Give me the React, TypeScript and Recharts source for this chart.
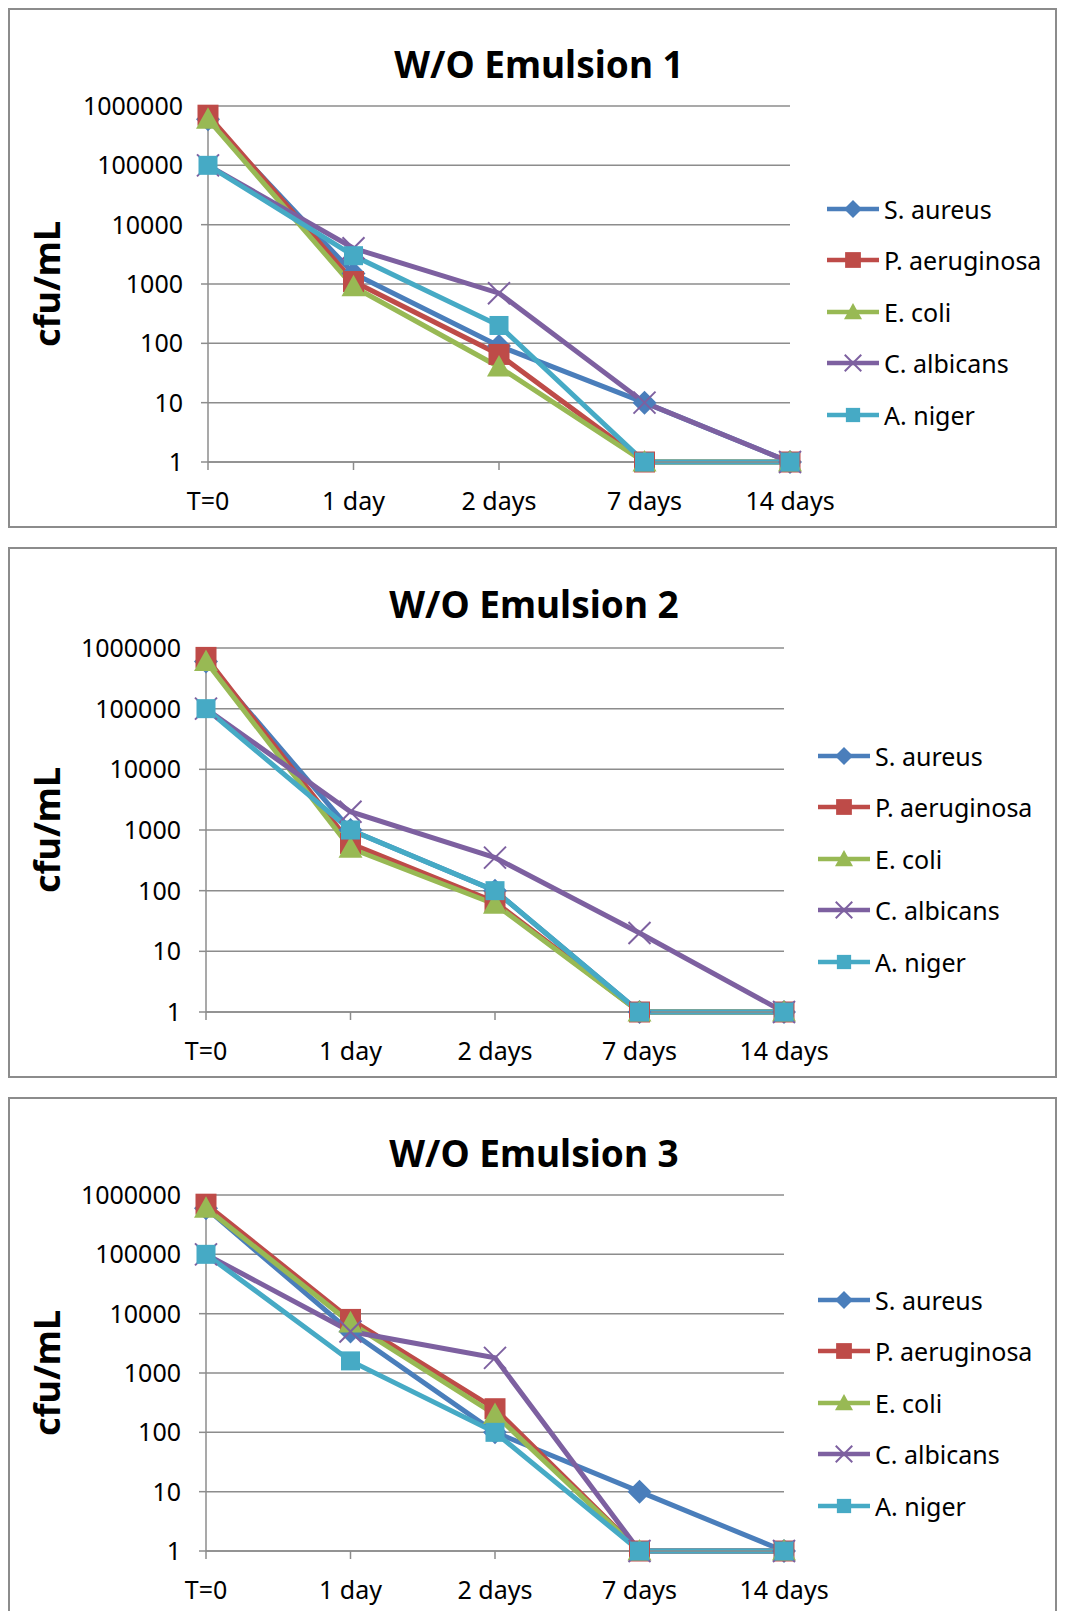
import { LineChart, Line, XAxis, YAxis, CartesianGrid, Legend } from 'recharts';

const FONT = '"Noto Sans", "Noto Sans CJK KR", sans-serif';
const GRID = '#8c8c8c';

const DAYS = ['T=0', '1 day', '2 days', '7 days', '14 days'];
const LOG_TICKS = [1, 10, 100, 1000, 10000, 100000, 1000000];

// W/O Emulsion 1 (cfu/mL)
const E1_S_AUREUS = [600000, 1500, 90, 10, 1];
const E1_P_AERUGINOSA = [700000, 1100, 65, 1, 1];
const E1_E_COLI = [600000, 900, 40, 1, 1];
const E1_C_ALBICANS = [100000, 4000, 700, 10, 1];
const E1_A_NIGER = [100000, 3000, 200, 1, 1];

// W/O Emulsion 2
const E2_S_AUREUS = [600000, 1000, 100, 1, 1];
const E2_P_AERUGINOSA = [700000, 600, 65, 1, 1];
const E2_E_COLI = [600000, 500, 60, 1, 1];
const E2_C_ALBICANS = [100000, 2000, 350, 20, 1];
const E2_A_NIGER = [100000, 1000, 100, 1, 1];

// W/O Emulsion 3
const E3_S_AUREUS = [600000, 5000, 100, 10, 1];
const E3_P_AERUGINOSA = [700000, 8000, 250, 1, 1];
const E3_E_COLI = [600000, 7000, 200, 1, 1];
const E3_C_ALBICANS = [100000, 5000, 1800, 1, 1];
const E3_A_NIGER = [100000, 1600, 100, 1, 1];

type Shape = 'diamond' | 'square' | 'triangle' | 'x' | 'smallsquare';

const SERIES: { key: string; name: string; color: string; shape: Shape }[] = [
  { key: 'sa', name: 'S. aureus', color: '#4a7ebb', shape: 'diamond' },
  { key: 'pa', name: 'P. aeruginosa', color: '#be4b48', shape: 'square' },
  { key: 'ec', name: 'E. coli', color: '#98b954', shape: 'triangle' },
  { key: 'ca', name: 'C. albicans', color: '#7d60a0', shape: 'x' },
  { key: 'an', name: 'A. niger', color: '#46aac5', shape: 'smallsquare' },
];

function buildRows(values: number[][]) {
  return DAYS.map((day, i) => {
    const row: Record<string, string | number> = { day };
    SERIES.forEach((s, j) => {
      row[s.key] = values[j][i];
    });
    return row;
  });
}

function Marker({ shape, x, y, color, s = 1 }: { shape: Shape; x: number; y: number; color: string; s?: number }) {
  if (shape === 'diamond') {
    const r = 12 * s;
    return <polygon points={`${x},${y - r} ${x + r},${y} ${x},${y + r} ${x - r},${y}`} fill={color} />;
  }
  if (shape === 'square') {
    const r = 10.5 * s;
    return <rect x={x - r} y={y - r} width={r * 2} height={r * 2} fill={color} />;
  }
  if (shape === 'triangle') {
    const r = 12 * s;
    return <polygon points={`${x},${y - r} ${x + r},${y + r * 0.8} ${x - r},${y + r * 0.8}`} fill={color} />;
  }
  if (shape === 'x') {
    const r = 11 * s;
    return (
      <g stroke={color} strokeWidth={2}>
        <line x1={x - r} y1={y - r} x2={x + r} y2={y + r} />
        <line x1={x - r} y1={y + r} x2={x + r} y2={y - r} />
      </g>
    );
  }
  const r = 9.5 * s;
  return <rect x={x - r} y={y - r} width={r * 2} height={r * 2} fill={color} />;
}

function LegendBox() {
  return (
    <div style={{ fontFamily: FONT, fontSize: 25, color: '#000' }}>
      {SERIES.map((s) => (
        <div key={s.key} style={{ display: 'flex', alignItems: 'center', height: 51.5 }}>
          <svg width={52} height={24} style={{ overflow: 'visible' }}>
            <line x1={0} y1={12} x2={52} y2={12} stroke={s.color} strokeWidth={4.5} />
            <Marker shape={s.shape} x={26} y={12} color={s.color} s={0.75} />
          </svg>
          <span style={{ marginLeft: 5, whiteSpace: 'nowrap' }}>{s.name}</span>
        </div>
      ))}
    </div>
  );
}

function YLabel(props: any) {
  const vb = props.viewBox || { x: 0, y: 0, height: 0 };
  const cx = vb.x + 36;
  const cy = vb.y + vb.height / 2;
  return (
    <text
      x={cx}
      y={cy}
      transform={`rotate(-90 ${cx} ${cy})`}
      textAnchor="middle"
      dominantBaseline="central"
      fontSize={36}
      fontWeight={700}
      fontFamily={FONT}
      fill="#000"
    >
      cfu/mL
    </text>
  );
}

interface PanelProps {
  title: string;
  values: number[][];
  top: number;
  height: number;
  noBottom?: boolean;
  marginTop: number;
  xAxisHeight: number;
  yWidth: number;
  marginRight: number;
  legendLeft: number;
  legendTop: number;
  titleX: number;
  titleY: number;
}

function Panel(p: PanelProps) {
  const rows = buildRows(p.values);
  const chartH = p.height - (p.noBottom ? 2 : 4);
  return (
    <div
      style={{
        position: 'absolute',
        left: 0,
        top: p.top,
        width: 1049,
        height: p.height,
        boxSizing: 'border-box',
        border: `2px solid ${GRID}`,
        borderBottom: p.noBottom ? 'none' : `2px solid ${GRID}`,
        background: '#fff',
      }}
    >
      <LineChart
        width={1045}
        height={chartH}
        data={rows}
        margin={{ top: p.marginTop, right: p.marginRight, bottom: 0, left: 0 }}
      >
        <CartesianGrid vertical={false} stroke={GRID} strokeWidth={1.5} />
        <XAxis
          dataKey="day"
          height={p.xAxisHeight}
          interval={0}
          tickSize={8}
          tickMargin={22}
          axisLine={{ stroke: GRID, strokeWidth: 1.5 }}
          tickLine={{ stroke: GRID, strokeWidth: 1.5 }}
          tick={{ fill: '#000', fontSize: 25, fontFamily: FONT }}
        />
        <YAxis
          type="number"
          scale="log"
          domain={[1, 1000000]}
          ticks={LOG_TICKS}
          interval={0}
          width={p.yWidth}
          tickSize={7}
          tickMargin={18}
          axisLine={{ stroke: GRID, strokeWidth: 1.5 }}
          tickLine={{ stroke: GRID, strokeWidth: 1.5 }}
          tick={{ fill: '#000', fontSize: 25, fontFamily: FONT }}
          label={{ content: YLabel }}
        />
        <Legend
          layout="vertical"
          align="center"
          verticalAlign="middle"
          wrapperStyle={{ left: p.legendLeft, top: p.legendTop, width: 230 }}
          content={() => <LegendBox />}
        />
        {SERIES.map((s) => (
          <Line
            key={s.key}
            type="linear"
            dataKey={s.key}
            name={s.name}
            stroke={s.color}
            strokeWidth={5}
            isAnimationActive={false}
            activeDot={false}
            dot={(d: any) => (
              <Marker key={`${s.key}-${d.index}`} shape={s.shape} x={d.cx} y={d.cy} color={s.color} />
            )}
          />
        ))}
      </LineChart>
      <div
        style={{
          position: 'absolute',
          left: p.titleX - 300,
          top: p.titleY - 26,
          width: 600,
          lineHeight: '52px',
          textAlign: 'center',
          fontFamily: FONT,
          fontSize: 37,
          fontWeight: 700,
          color: '#000',
        }}
      >
        {p.title}
      </div>
    </div>
  );
}

export default function App() {
  return (
    <div style={{ padding: '8px 0 0 8px' }}>
      <style>{'body { margin: 0; }'}</style>
      <div style={{ position: 'relative', width: 1049, height: 1603, overflow: 'hidden', background: '#fff' }}>
        <Panel
          title="W/O Emulsion 1"
          values={[E1_S_AUREUS, E1_P_AERUGINOSA, E1_E_COLI, E1_C_ALBICANS, E1_A_NIGER]}
          top={0}
          height={520}
          marginTop={96}
          xAxisHeight={64}
          yWidth={198}
          marginRight={265}
          legendLeft={817}
          legendTop={173}
          titleX={529}
          titleY={54}
        />
        <Panel
          title="W/O Emulsion 2"
          values={[E2_S_AUREUS, E2_P_AERUGINOSA, E2_E_COLI, E2_C_ALBICANS, E2_A_NIGER]}
          top={539}
          height={531}
          marginTop={99}
          xAxisHeight={64}
          yWidth={196}
          marginRight={271}
          legendLeft={808}
          legendTop={181}
          titleX={524}
          titleY={55}
        />
        <Panel
          title="W/O Emulsion 3"
          values={[E3_S_AUREUS, E3_P_AERUGINOSA, E3_E_COLI, E3_C_ALBICANS, E3_A_NIGER]}
          top={1089}
          height={514}
          noBottom
          marginTop={96}
          xAxisHeight={60}
          yWidth={196}
          marginRight={271}
          legendLeft={808}
          legendTop={175}
          titleX={524}
          titleY={54}
        />
      </div>
    </div>
  );
}
